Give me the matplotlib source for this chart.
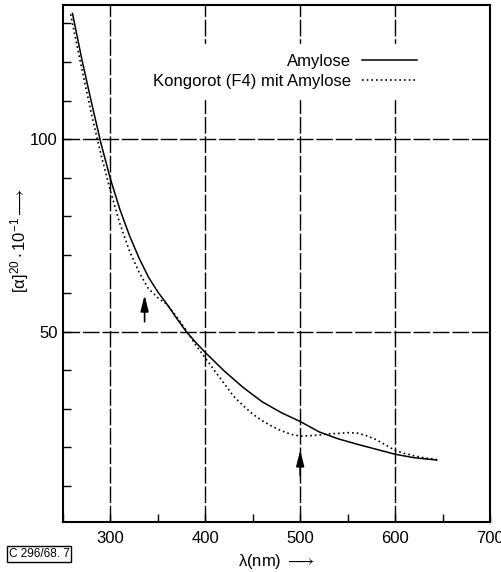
"""
Rotationsdispersion von Amylose, mit und ohne Kongorot
"""
import matplotlib
matplotlib.use("Agg")
import matplotlib.pyplot as plt
from matplotlib.ticker import MultipleLocator

plt.rcParams['font.family'] = ['Liberation Sans', 'DejaVu Sans']
plt.rcParams['mathtext.fontset'] = 'custom'
plt.rcParams['mathtext.rm'] = 'Liberation Sans'
plt.rcParams['mathtext.it'] = 'Liberation Sans'
plt.rcParams['mathtext.fallback'] = 'stixsans'

# Amylose (durchgezogen)
lam_amylose = [260, 270, 280, 290, 300, 310, 320, 330, 340, 350, 360, 370, 380,
               390, 400, 420, 440, 460, 480, 500, 520, 540, 560, 580, 600, 620, 644]
rot_amylose = [132.6, 120.5, 109.5, 98.9, 89.6, 81.7, 75.0, 69.2, 64.2, 60.3, 57.0,
               53.4, 50.0, 47.2, 44.6, 39.8, 35.5, 31.8, 29.0, 26.7, 24.0, 22.2,
               20.8, 19.5, 18.2, 17.3, 16.7]

# Kongorot (F4) mit Amylose (punktiert)
lam_kongo = [258, 270, 280, 290, 300, 310, 320, 330, 340, 350, 360, 370, 380, 390,
             400, 410, 420, 430, 440, 450, 460, 470, 480, 490, 500, 510, 520, 530,
             540, 550, 560, 570, 580, 590, 600, 610, 620, 630, 644]
rot_kongo = [132.4, 118, 106.5, 96, 86.5, 78, 71, 65.5, 61.2, 58.8, 57.0, 53.8, 50.3,
             46.5, 43.2, 39.8, 36.5, 33.2, 30.8, 28.6, 26.9, 25.5, 24.3, 23.4, 22.9,
             23.0, 23.2, 23.5, 23.6, 23.8, 23.7, 23.0, 22.0, 20.6, 19.2, 18.4, 17.8,
             17.3, 16.8]

# Pfeile (Wellenlaenge, von, bis)
pfeil_lam = [336, 500]
pfeil_von = [52.6, 12.6]
pfeil_bis = [59.5, 19.3]

fig = plt.figure(figsize=(5.02, 5.72), dpi=100)
ax = fig.add_axes([0.1255, 0.088, 0.8505, 0.9033])

# Gitter
for x in [300, 400, 500, 600]:
    ax.axvline(x, color='black', lw=1.0, ls=(0, (12, 2)), zorder=1)
for y in [50, 100]:
    ax.axhline(y, color='black', lw=1.0, ls=(0, (12, 2)), zorder=1)

ax.plot(lam_amylose, rot_amylose, color='black', lw=1.1, label='Amylose', zorder=3)
ax.plot(lam_kongo, rot_kongo, color='black', lw=1.2, ls=(0, (1, 1.8)),
        label='Kongorot (F4) mit Amylose', zorder=3)

for x, y0, y1 in zip(pfeil_lam, pfeil_von, pfeil_bis):
    ax.annotate('', xy=(x, y1), xytext=(x, y0),
                arrowprops=dict(arrowstyle='-|>,head_width=0.2,head_length=0.8',
                                mutation_scale=12, color='black', lw=1.2,
                                shrinkA=0, shrinkB=0), zorder=4)

ax.set_xlim(250, 700)
ax.set_ylim(0.7, 134.8)
ax.set_xticks([300, 400, 500, 600, 700])
ax.set_yticks([50, 100])
ax.xaxis.set_minor_locator(MultipleLocator(50))
ax.yaxis.set_minor_locator(MultipleLocator(10))
ax.tick_params(which='both', direction='in', length=6, width=1, labelsize=12)
ax.tick_params(axis='x', pad=7)
ax.tick_params(axis='y', pad=4)
for s in ax.spines.values():
    s.set_linewidth(1.5)

ax.set_xlabel(r'λ(nm) $\longrightarrow$', fontsize=12, labelpad=4)
ax.set_ylabel(r'$[\alpha]^{20}\cdot 10^{-1}\longrightarrow$', fontsize=12)
ax.yaxis.set_label_coords(-0.075, 0.545)

leg = ax.legend(loc='upper right', bbox_to_anchor=(0.873, 0.941), markerfirst=False,
                fontsize=12, handlelength=3.3, handletextpad=0.7, labelspacing=0.3,
                frameon=True, fancybox=False, borderpad=0.6)
leg.get_frame().set_edgecolor('white')
leg.get_frame().set_facecolor('white')
leg.get_frame().set_alpha(1)
leg.set_zorder(5)

fig.text(0.017, 0.026, 'C 296/68. 7', fontsize=8.5,
         bbox=dict(boxstyle='square,pad=0.15', fc='white', ec='black', lw=1))

fig.savefig('out.png', dpi=100)
